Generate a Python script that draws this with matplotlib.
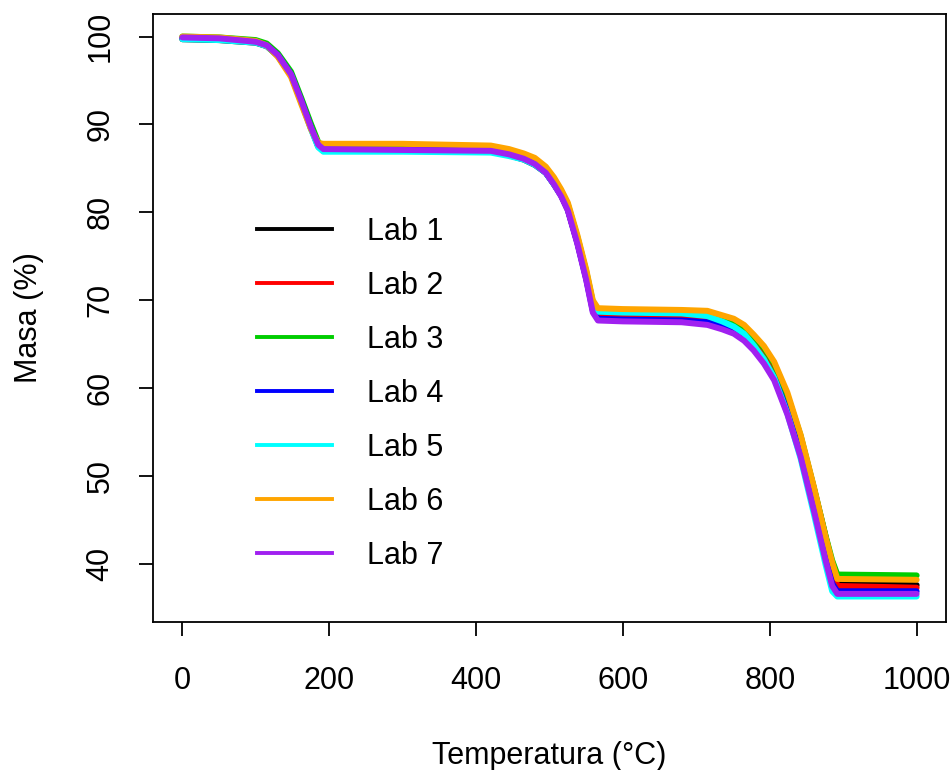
import matplotlib
matplotlib.use("Agg")
import matplotlib.pyplot as plt

plt.rcParams['font.family'] = ['Liberation Sans', 'DejaVu Sans']

# temperatura comun (°C)
temp = [0, 50, 100, 115, 130, 148, 162, 175, 185, 192, 300, 420,
        445, 465, 480, 495, 506, 516, 525, 538, 550, 559, 566, 600, 680,
        715, 735, 751, 765, 778, 792, 806, 824, 842, 860, 876, 885, 892, 1000]

# masa (%) por laboratorio
lab1 = [99.7, 99.6, 99.3, 98.9, 97.8, 95.6, 92.6, 89.6, 87.5, 87.0, 87.0, 86.9,
        86.5, 86.0, 85.4, 84.5, 83.2, 81.9, 80.3, 76.6, 72.6, 69.1, 68.2, 68.1, 68.0,
        67.9, 67.5, 67.1, 66.4, 65.4, 64.1, 62.4, 58.9, 54.4, 48.6, 43.1, 40.0, 37.8, 37.6]
lab2 = [99.8, 99.7, 99.4, 99.0, 97.9, 95.8, 92.8, 89.9, 87.8, 87.3, 87.3, 87.2,
        86.8, 86.3, 85.7, 84.7, 83.4, 82.1, 80.5, 76.7, 72.6, 69.0, 68.1, 68.0, 67.9,
        67.8, 67.4, 67.0, 66.3, 65.3, 64.0, 62.2, 58.8, 54.2, 48.4, 42.8, 39.8, 37.5, 37.3]
lab3 = [100.0, 99.9, 99.6, 99.2, 98.1, 96.0, 93.0, 90.1, 88.0, 87.5, 87.5, 87.4,
        87.0, 86.5, 86.0, 85.0, 83.8, 82.4, 80.9, 77.2, 73.3, 69.8, 68.9, 68.8, 68.7,
        68.6, 68.1, 67.7, 66.9, 65.9, 64.6, 62.8, 59.2, 54.6, 48.7, 43.2, 40.4, 38.8, 38.7]
lab4 = [99.8, 99.7, 99.4, 99.0, 97.9, 95.7, 92.7, 89.7, 87.6, 87.1, 87.1, 87.0,
        86.6, 86.1, 85.5, 84.5, 83.2, 81.9, 80.3, 76.5, 72.4, 68.8, 67.9, 67.8, 67.7,
        67.5, 67.0, 66.5, 65.7, 64.6, 63.1, 61.2, 57.4, 52.5, 46.4, 40.7, 37.8, 36.9, 36.9]
lab5 = [99.7, 99.6, 99.3, 98.9, 97.8, 95.6, 92.5, 89.5, 87.4, 86.9, 86.9, 86.8,
        86.4, 86.0, 85.4, 84.5, 83.2, 81.9, 80.4, 76.9, 73.0, 69.5, 68.7, 68.6, 68.5,
        68.2, 67.6, 67.0, 66.2, 64.9, 63.3, 61.2, 57.1, 52.0, 45.7, 39.9, 36.9, 36.3, 36.3]
lab6 = [100.0, 99.9, 99.5, 99.0, 97.7, 95.4, 92.3, 89.5, 87.9, 87.8, 87.8, 87.6,
        87.2, 86.7, 86.2, 85.2, 84.0, 82.6, 81.1, 77.4, 73.5, 70.0, 69.1, 69.0, 68.9,
        68.8, 68.3, 67.9, 67.2, 66.1, 64.8, 63.0, 59.5, 54.7, 48.8, 43.1, 40.2, 38.3, 38.2]
lab7 = [99.9, 99.8, 99.4, 99.0, 97.9, 95.7, 92.7, 89.7, 87.7, 87.2, 87.1, 87.0,
        86.6, 86.1, 85.5, 84.5, 83.2, 81.8, 80.2, 76.4, 72.3, 68.6, 67.7, 67.6, 67.5,
        67.2, 66.7, 66.2, 65.4, 64.3, 62.8, 60.9, 57.0, 52.2, 46.1, 40.4, 37.5, 36.6, 36.6]

labs = ["Lab 1", "Lab 2", "Lab 3", "Lab 4", "Lab 5", "Lab 6", "Lab 7"]
masas = [lab1, lab2, lab3, lab4, lab5, lab6, lab7]
colores = ["black", "red", "#00CD00", "blue", "cyan", "#FFA500", "#A020F0"]

fs = 22

fig = plt.figure(figsize=(9.52, 7.70), dpi=100)
ax = fig.add_axes([0.1607, 0.1922, 0.833, 0.790])

for m, c in zip(masas, colores):
    ax.plot(temp, m, color=c, lw=4.3, solid_capstyle='round', solid_joinstyle='round')

ax.set_xlim(-40, 1040)
ax.set_ylim(33.4, 102.6)
ax.set_xticks([0, 200, 400, 600, 800, 1000])
ax.set_yticks([40, 50, 60, 70, 80, 90, 100])
ax.tick_params(direction='out', length=10, width=1.3, labelsize=fs)
ax.tick_params(axis='x', pad=22)
ax.tick_params(axis='y', pad=17)
for lab in ax.get_yticklabels():
    lab.set_rotation(90)
    lab.set_va('center')
for s in ax.spines.values():
    s.set_linewidth(1.3)

ax.set_xlabel("Temperatura (°C)", fontsize=fs, labelpad=32)
ax.set_ylabel("Masa (%)", fontsize=fs, labelpad=30)

handles = [plt.Line2D([], [], color=c, lw=2.8) for c in colores]
ax.legend(handles, labs, loc='upper left', bbox_to_anchor=(0.116, 0.686),
          frameon=False, fontsize=fs, handlelength=2.45, handletextpad=1.15,
          labelspacing=0.785, borderaxespad=0)

fig.savefig("out.png", dpi=100)
